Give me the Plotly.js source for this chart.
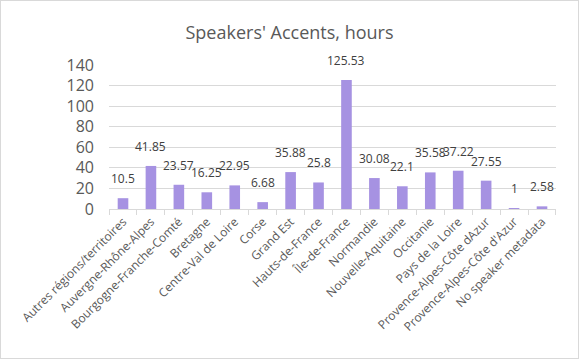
<!DOCTYPE html>
<html>
<head>
<meta charset="utf-8">
<script src="https://cdn.plot.ly/plotly-3.0.1.min.js"></script>
<style>
  html, body { margin: 0; padding: 0; background: #fff; }
  #wrap { width: 577px; height: 357px; border: 1px solid #d9d9d9; overflow: hidden; }
</style>
</head>
<body>
<div id="wrap"><div id="chart"></div></div>
<script>
const categories = [
  "Autres régions/territoires",
  "Auvergne-Rhône-Alpes",
  "Bourgogne-Franche-Comté",
  "Bretagne",
  "Centre-Val de Loire",
  "Corse",
  "Grand Est",
  "Hauts-de-France",
  "Île-de-France",
  "Normandie",
  "Nouvelle-Aquitaine",
  "Occitanie",
  "Pays de la Loire",
  "Provence-Alpes-Côte dAzur",
  "Provence-Alpes-Côte d'Azur",
  "No speaker metadata"
];
const hours = [10.5, 41.85, 23.57, 16.25, 22.95, 6.68, 35.88, 25.8, 125.53, 30.08, 22.1, 35.58, 37.22, 27.55, 1, 2.58];
const yTicks = [0, 20, 40, 60, 80, 100, 120, 140];

const FONT = "'Open Sans', 'Noto Sans', sans-serif";

const trace = {
  type: 'bar',
  x: categories,
  y: hours,
  marker: { color: '#a692e2' },
  hoverinfo: 'x+y'
};

const annotations = categories.map((c, i) => ({
  x: c, y: hours[i], text: String(hours[i]),
  xref: 'x', yref: 'y', showarrow: false,
  yanchor: 'bottom', yshift: 9,
  font: { family: FONT, size: 12, color: '#404040' }
}));

const layout = {
  width: 577, height: 357,
  margin: { l: 108, r: 22, t: 64, b: 149 },
  paper_bgcolor: '#fff', plot_bgcolor: '#fff',
  title: {
    text: "Speakers' Accents, hours",
    font: { family: FONT, size: 18, color: '#595959' },
    x: 0.5, xanchor: 'center', y: 0.91, yanchor: 'middle'
  },
  bargap: 0.62,
  showlegend: false,
  xaxis: {
    type: 'category',
    tickangle: -45,
    tickfont: { family: FONT, size: 12, color: '#595959' },
    showline: true, linecolor: '#d9d9d9', linewidth: 1,
    ticks: 'outside', tickson: 'boundaries', ticklen: 5, tickcolor: '#d9d9d9',
    showgrid: false, zeroline: false, fixedrange: true
  },
  yaxis: {
    range: [0, 140],
    tickvals: yTicks,
    ticktext: yTicks.map(String),
    tickfont: { family: FONT, size: 16, color: '#595959' },
    showgrid: true, gridcolor: '#d9d9d9', gridwidth: 1,
    zeroline: false, showline: false, ticks: '',
    ticklabelstandoff: 14,
    fixedrange: true
  },
  annotations: annotations
};

Plotly.newPlot('chart', [trace], layout, { displayModeBar: false, staticPlot: true });
</script>
</body>
</html>
